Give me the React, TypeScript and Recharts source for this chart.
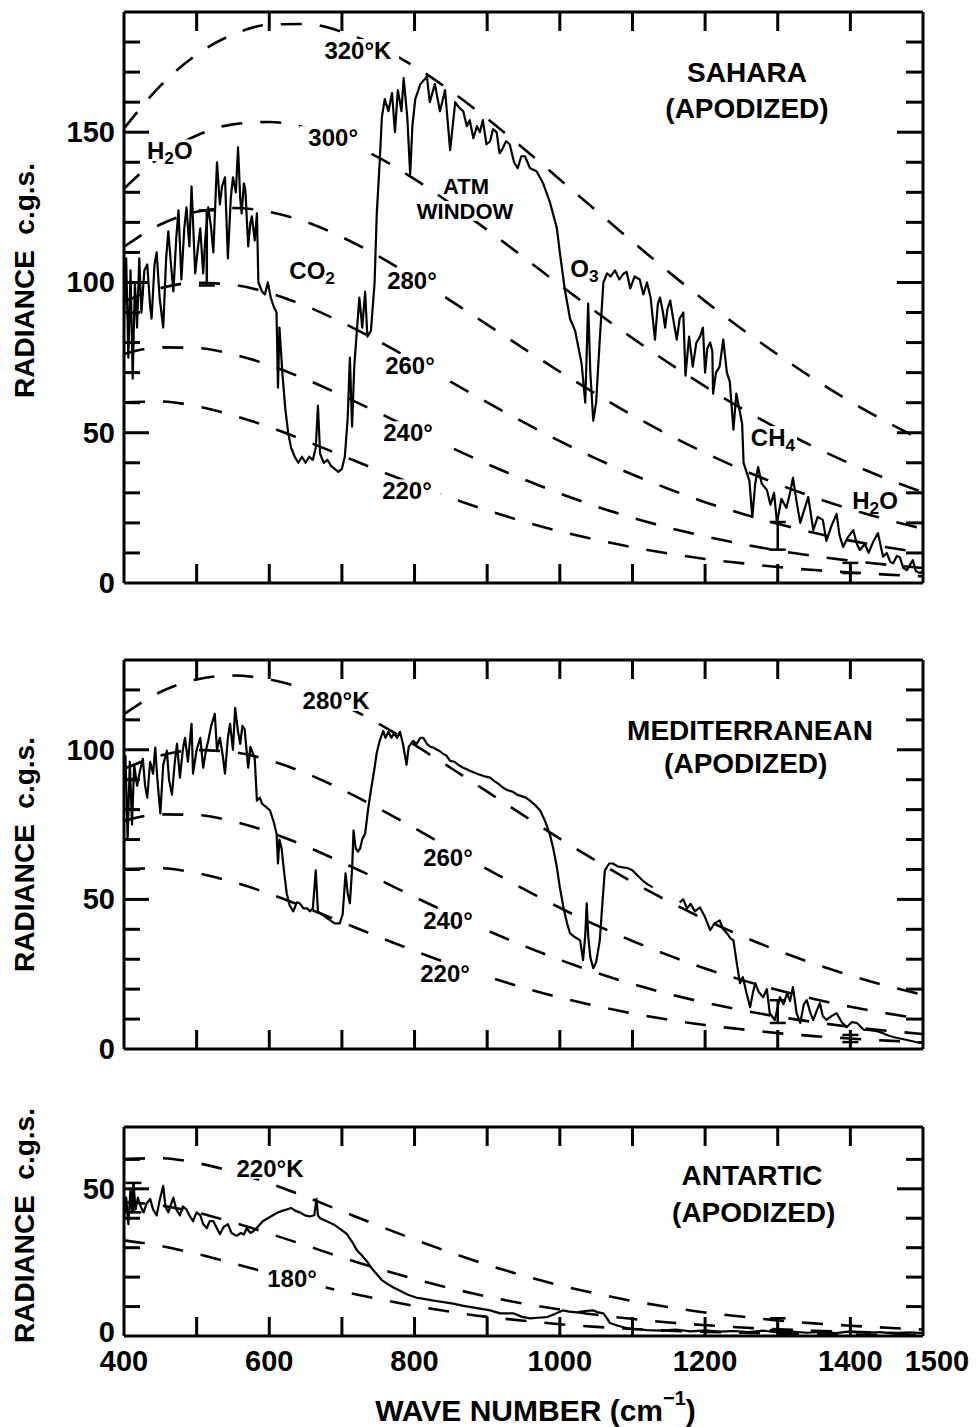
import React from 'react';
import { ComposedChart, Line, Scatter, XAxis, YAxis, ErrorBar } from 'recharts';

const FONT = '"Liberation Sans", Arial, Helvetica, sans-serif';

// ---------- blackbody reference curves (radiance, c.g.s.) ----------
const bbWN = [400, 450, 500, 550, 600, 650, 700, 750, 800, 850, 900, 950, 1000, 1050, 1100, 1150, 1200, 1250, 1300, 1350, 1400, 1450, 1500];
const bb320 = [151.2, 165.4, 175.8, 182.5, 185.8, 186.0, 183.4, 178.5, 171.8, 163.7, 154.5, 144.6, 134.3, 123.9, 113.6, 103.5, 93.8, 84.6, 76.0, 67.9, 60.4, 53.6, 47.4];
const bb300 = [131.2, 141.8, 148.9, 152.6, 153.4, 151.5, 147.4, 141.6, 134.4, 126.2, 117.5, 108.4, 99.2, 90.2, 81.5, 73.2, 65.4, 58.1, 51.4, 45.3, 39.7, 34.7, 30.2];
const bb280 = [111.9, 119.3, 123.5, 124.8, 123.5, 120.2, 115.1, 108.8, 101.6, 93.9, 86.0, 78.1, 70.3, 62.9, 55.8, 49.3, 43.3, 37.8, 32.9, 28.5, 24.6, 21.1, 18.1];
const bb260 = [93.6, 98.1, 99.9, 99.2, 96.5, 92.2, 86.7, 80.5, 73.8, 66.9, 60.1, 53.5, 47.2, 41.4, 36.1, 31.3, 26.9, 23.1, 19.7, 16.7, 14.1, 11.9, 10.0];
const bb240 = [76.2, 78.4, 78.2, 76.1, 72.5, 67.8, 62.4, 56.7, 50.8, 45.1, 39.6, 34.5, 29.8, 25.5, 21.7, 18.4, 15.5, 13.0, 10.8, 9.0, 7.4, 6.1, 5.0];
const bb220 = [60.1, 60.4, 58.8, 55.8, 51.9, 47.3, 42.4, 37.5, 32.8, 28.3, 24.2, 20.5, 17.2, 14.4, 11.9, 9.8, 8.0, 6.6, 5.3, 4.3, 3.5, 2.8, 2.2];
const bb200 = [45.5, 44.4, 42.0, 38.6, 34.8, 30.8, 26.7, 22.9, 19.4, 16.2, 13.4, 11.0, 9.0, 7.2, 5.8, 4.6, 3.7, 2.9, 2.3, 1.8, 1.4, 1.1, 0.8];
const bb180 = [32.5, 30.6, 27.9, 24.7, 21.4, 18.2, 15.2, 12.6, 10.2, 8.2, 6.5, 5.2, 4.0, 3.1, 2.4, 1.8, 1.4, 1.1, 0.8, 0.6, 0.45, 0.34, 0.25];

// ---------- Sahara spectrum ----------
const saharaWN = [
  400, 403, 406, 409, 412, 415, 418, 421, 424, 428, 432, 436, 438, 442, 445, 449, 454, 458, 461, 465,
  468, 472, 475, 479, 483, 486, 490, 493, 498, 502, 505, 509, 512, 516, 520, 523, 526, 528, 532, 535,
  539, 543, 547, 550, 554, 557, 560, 562, 565, 567, 571, 574, 576, 580, 583, 585, 590, 594, 598, 602,
  606, 610, 612, 614, 618, 622, 626, 630, 635, 640, 645, 650, 655, 660, 664, 667, 670, 675, 680, 685,
  690, 695, 700, 704, 708, 711, 714, 717, 720, 724, 728, 732, 735, 740, 745, 748, 752, 755, 759, 764,
  769, 773, 777, 782, 785, 790, 794, 797, 801, 808, 817, 821, 828, 835, 842, 849, 856, 862, 867, 872,
  876, 881, 886, 890, 894, 899, 904, 908, 913, 917, 920, 926, 931, 937, 942, 947, 952, 959, 968, 977,
  986, 996, 1000, 1007, 1014, 1021, 1030, 1035, 1039, 1042, 1046, 1050, 1055, 1060, 1065, 1070, 1076, 1082, 1088, 1092,
  1097, 1103, 1110, 1115, 1120, 1125, 1131, 1135, 1138, 1142, 1145, 1148, 1152, 1156, 1161, 1165, 1170, 1173, 1178, 1183,
  1188, 1193, 1197, 1200, 1203, 1207, 1210, 1211, 1215, 1220, 1225, 1230, 1234, 1239, 1243, 1247, 1251, 1253, 1257, 1261,
  1265, 1269, 1273, 1278, 1285, 1290, 1295, 1299, 1305, 1312, 1317, 1321, 1326, 1331, 1336, 1342, 1349, 1355, 1362, 1367,
  1374, 1381, 1385, 1390, 1396, 1404, 1409, 1413, 1420, 1425, 1432, 1438, 1445, 1450, 1455, 1459, 1464, 1468, 1473, 1478,
  1482, 1486, 1490, 1496, 1500,
];
const saharaRad = [
  88, 108, 75, 104, 68, 100, 85, 108, 90, 104, 106, 92, 88, 106, 110, 95, 85, 108, 117, 105,
  97, 115, 124, 101, 118, 125, 112, 132, 103, 112, 118, 103, 115, 125, 118, 110, 128, 140, 126, 132,
  135, 108, 128, 135, 130, 145, 128, 123, 133, 131, 112, 120, 122, 114, 123, 100, 97, 96, 100, 95,
  92, 90, 65, 85, 70, 58, 50, 45, 42, 40, 42, 40, 42, 41, 45, 59, 43, 40, 41, 39,
  38, 37, 38, 42, 55, 75, 52, 72, 82, 95, 85, 97, 82, 84, 100, 123, 140, 155, 161, 157,
  163, 150, 164, 157, 168, 155, 136, 152, 161, 166, 168.5, 160, 166, 157, 164, 144, 160, 158, 157, 152,
  154, 148, 152, 150, 154, 146, 147, 151, 150, 143, 144, 147, 146, 140, 138, 142, 142, 138, 137, 133,
  127, 118, 110, 97.5, 88, 84, 73, 60, 93, 70, 54, 60, 81, 100, 103, 102, 104, 101, 103, 103.5,
  98, 102, 101, 96, 100, 95, 81, 93, 95, 90, 85, 91, 94, 88, 81, 88, 90, 69, 82, 72,
  80, 82, 85, 70, 78, 80, 77, 63, 70, 72, 81, 70, 67, 51, 63, 58, 53, 40, 37, 34,
  22, 33, 38.6, 33, 31, 26, 30, 20, 28, 25, 30, 35, 27, 20, 24, 28.6, 17.6, 22, 21, 14,
  19, 23, 16, 12, 15, 17.6, 13, 11, 13, 10, 14, 16.6, 8.7, 10, 7, 6.6, 9, 8.6, 5, 4.3,
  6, 7.6, 4, 3.3, 4,
];

// ---------- Mediterranean spectrum (null = gap in the trace) ----------
const medWN = [
  400, 402, 405, 408, 411, 414, 418, 422, 426, 429, 432, 436, 440, 443, 446, 450, 454, 459, 462, 466,
  470, 473, 477, 481, 484, 488, 493, 495, 500, 505, 509, 513, 516, 520, 525, 528, 532, 536, 539, 543,
  546, 550, 553, 557, 560, 563, 566, 571, 574, 576, 580, 583, 587, 590, 595, 601, 606, 610, 612, 614,
  617, 620, 624, 628, 633, 638, 642, 647, 652, 656, 660, 664, 667, 672, 678, 684, 690, 697, 701, 705,
  708, 711, 714, 716, 719, 722, 725, 728, 732, 736, 739, 745, 748, 752, 757, 760, 764, 768, 772, 776,
  780, 784, 789, 792, 798, 803, 808, 812, 817, 822, 826, 831, 835, 839, 844, 849, 855, 860, 867, 872,
  876, 881, 886, 892, 898, 904, 910, 916, 922, 928, 935, 941, 947, 953, 959, 966, 973, 980, 986, 991,
  996, 1000, 1005, 1010, 1014, 1020, 1028, 1032, 1035, 1037, 1039, 1042, 1046, 1050, 1055, 1059, 1062, 1068, 1073, 1080,
  1087, 1093, 1100, 1107, 1114, 1121, 1128, 1148, 1165, 1170, 1175, 1180, 1186, 1193, 1200, 1207, 1213, 1220, 1225, 1230,
  1235, 1239, 1243, 1248, 1252, 1257, 1262, 1266, 1269, 1274, 1280, 1285, 1289, 1296, 1300, 1303, 1308, 1313, 1317, 1321,
  1326, 1331, 1336, 1340, 1345, 1349, 1354, 1358, 1362, 1367, 1374, 1381, 1388, 1395, 1402, 1409, 1418, 1427, 1436, 1445,
  1452, 1459, 1468, 1478, 1487, 1496, 1500,
];
const medRad: (number | null)[] = [
  90, 98, 70, 96, 75, 95, 88, 93, 97, 88, 84, 96, 92, 100.7, 90, 78.7, 95, 99.7, 90, 85,
  96, 102, 90.7, 100, 104, 96, 108.7, 92, 100, 104, 94, 100, 103, 108, 112, 100, 104, 98, 92, 104,
  108.7, 100, 114, 106, 102, 108, 107, 94, 101, 99.7, 97, 83, 84, 82, 81, 79.7, 76, 72, 62, 70,
  67, 60, 52, 48, 46, 49, 48.7, 47, 47, 46, 47, 59.7, 46, 45, 44, 43, 42, 42, 45, 58.7,
  52, 48.7, 60, 73, 67, 66, 67, 70, 72, 80, 85, 94, 99, 103, 106.3, 104, 106, 104, 105.5, 104,
  106, 102, 95, 101, 103, 102, 104, 104, 102, 101, 100.7, 100, 99.5, 98.7, 98, 96.3, 96, 95, 94, 93.5,
  93, 92.5, 92, 91.5, 91, 90.7, 89.5, 88.5, 87.3, 86.5, 86, 85, 84.5, 84, 83, 81.5, 79.7, 76, 72, 67,
  60.7, 54, 47.3, 42, 38.7, 37.5, 36.3, 29.7, 38, 48.7, 38, 30.7, 27, 29, 36.3, 50, 59.7, 62, 62, 61,
  60.7, 60.5, 59.7, 58, 56.3, 55, 54, null, 49, 50, 47, 48.5, 46, 47.3, 44, 39.7, 42, 43, 40, 38.7,
  37, 36.3, 29.7, 22, 24, 18.7, 14, 19, 22, 19, 17.3, 20, 12, 9.7, 14, 17.3, 15, 18.7, 16, 20.7,
  12, 8.7, 15, 16.3, 12, 9.7, 13, 15.3, 11, 9.7, 11, 12, 9, 7.3, 9, 8.7, 6.5, 6.3, 6, 5.3,
  4.5, 4, 3.5, 3, 2.5, 2, 2.5,
];

// ---------- Antarctic spectrum ----------
const antWN = [
  400, 403, 406, 409, 411, 413, 416, 419, 423, 427, 431, 436, 440, 445, 449, 454, 457, 461, 465, 468,
  472, 477, 481, 486, 490, 495, 500, 505, 509, 514, 518, 523, 527, 532, 537, 543, 548, 555, 561, 565,
  569, 574, 578, 584, 591, 598, 605, 612, 618, 624, 630, 636, 642, 649, 656, 662, 665, 667, 670, 679,
  688, 697, 707, 714, 721, 727, 734, 741, 748, 755, 762, 771, 780, 791, 803, 815, 826, 840, 853, 866,
  880, 892, 904, 918, 936, 948, 959, 970, 982, 993, 1004, 1013, 1023, 1035, 1046, 1053, 1060, 1065, 1069, 1080,
  1092, 1105, 1120, 1140, 1160, 1180, 1200, 1220, 1240, 1260, 1280, 1300, 1320, 1340, 1360, 1380, 1400, 1420, 1440, 1460,
  1480, 1500,
];
const antRad = [
  40, 47, 38, 50, 42, 52, 43, 47, 44, 42, 45, 46.6, 43, 41, 46, 51, 44, 42, 45, 47,
  43, 41, 44, 43, 41, 39, 42, 41, 38, 36.6, 39, 39, 37, 34.6, 37, 38, 35, 34, 35, 34.5,
  36.6, 35, 35.6, 37, 39, 40, 41, 42, 42.5, 43, 43.5, 42.5, 42, 41, 40.6, 41, 46.6, 41, 40, 39,
  38, 36.5, 34.6, 32, 29, 27.5, 25.5, 23, 21, 19, 17.8, 16.5, 15.4, 14, 13, 12.5, 12, 11.5, 11, 10.3,
  9.7, 9.2, 8.7, 7.7, 7.7, 6.5, 6, 6.2, 6.4, 7.5, 8.7, 8.3, 8, 8.5, 8.7, 8, 7.7, 6, 4.4, 3.5,
  2.7, 2.3, 2, 1.8, 2.2, 1.6, 1.9, 1.5, 1.7, 1.3, 1.8, 1.2, 1.5, 1.1, 1.4, 1.0, 1.6, 1.1, 1.3, 0.9,
  1.2, 1.0,
];

// ---------- error-bar markers drawn on the traces ----------
const saharaErrWN = [514, 1300, 1400];
const saharaErrMid = [111.5, 15.7, 5];
const saharaErrHalf = [12.5, 4.6, 1.7];
const medErrWN = [1300, 1400];
const medErrMid = [12.5, 3.5];
const medErrHalf = [3.8, 1.2];
const antErrWN = [413, 1300];
const antErrMid = [47, 4];
const antErrHalf = [5, 2];

// ---------- axis ticks ----------
const xInnerTicks = [500, 600, 700, 800, 900, 1000, 1100, 1200, 1300, 1400];
const xBottomTicks = [400, 500, 600, 700, 800, 900, 1000, 1100, 1200, 1300, 1400, 1500];
const xLabelValues = [400, 600, 800, 1000, 1200, 1400, 1500];
const ySaharaTicks = [0, 10, 20, 30, 40, 50, 60, 70, 80, 90, 100, 110, 120, 130, 140, 150, 160, 170, 180];
const ySaharaLabels = [0, 50, 100, 150];
const yMedTicks = [0, 10, 20, 30, 40, 50, 60, 70, 80, 90, 100, 110, 120];
const yMedLabels = [0, 50, 100];
const yAntTicks = [0, 10, 20, 30, 40, 50, 60];
const yAntLabels = [0, 50];

type Part = { t: string; sub?: boolean };
type Note = { x: number; y: number; parts: Part[]; size?: number; mask?: boolean };

const P = (s: string): Part[] => [{ t: s }];

const saharaNotes: Note[] = [
  { x: 722, y: 177.4, parts: P('320°K'), mask: true },
  { x: 688, y: 148.4, parts: P('300°'), mask: true },
  { x: 463, y: 144, parts: [{ t: 'H' }, { t: '2', sub: true }, { t: 'O' }], mask: true },
  { x: 659, y: 104, parts: [{ t: 'CO' }, { t: '2', sub: true }] },
  { x: 871, y: 132.2, parts: P('ATM'), size: 22, mask: true },
  { x: 869.5, y: 123.8, parts: P('WINDOW'), size: 22, mask: true },
  { x: 796.5, y: 100.8, parts: P('280°'), mask: true },
  { x: 1034, y: 104.8, parts: [{ t: 'O' }, { t: '3', sub: true }] },
  { x: 793.7, y: 72.5, parts: P('260°'), mask: true },
  { x: 791, y: 50.2, parts: P('240°'), mask: true },
  { x: 789.6, y: 30.9, parts: P('220°'), mask: true },
  { x: 1293.5, y: 48.6, parts: [{ t: 'CH' }, { t: '4', sub: true }], mask: true },
  { x: 1434, y: 27.6, parts: [{ t: 'H' }, { t: '2', sub: true }, { t: 'O' }], mask: true },
  { x: 1257.7, y: 170, parts: P('SAHARA'), size: 28 },
  { x: 1257.7, y: 158, parts: P('(APODIZED)'), size: 28 },
];
const medNotes: Note[] = [
  { x: 691.9, y: 116.6, parts: P('280°K'), mask: true },
  { x: 846, y: 64.2, parts: P('260°'), mask: true },
  { x: 846, y: 43.1, parts: P('240°'), mask: true },
  { x: 842, y: 25.4, parts: P('220°'), mask: true },
  { x: 1261.8, y: 106.6, parts: P('MEDITERRANEAN'), size: 28 },
  { x: 1256, y: 95.6, parts: P('(APODIZED)'), size: 28 },
];
const antNotes: Note[] = [
  { x: 601, y: 57.1, parts: P('220°K'), mask: true },
  { x: 631.3, y: 19.7, parts: P('180°'), mask: true },
  { x: 1264.6, y: 54.7, parts: P('ANTARTIC'), size: 28 },
  { x: 1267, y: 42.1, parts: P('(APODIZED)'), size: 28 },
];

const pts = (xs: number[], ys: (number | null)[]) => xs.map((x, i) => ({ x, y: ys[i] }));
const errPts = (xs: number[], mid: number[], half: number[]) => xs.map((x, i) => ({ x, y: mid[i], err: half[i] }));

const NoteShape = (props: any) => {
  const { cx, cy, payload } = props;
  const n: Note = payload;
  if (!n || cx == null || cy == null) return <g />;
  const fs = n.size ?? 24;
  const children: React.ReactNode[] = [];
  let prevSub = false;
  let w = 0;
  n.parts.forEach((p, i) => {
    if (p.sub) {
      w += p.t.length * fs * 0.72 * 0.6;
      children.push(
        <tspan key={i} fontSize={fs * 0.72} dy={fs * 0.32}>
          {p.t}
        </tspan>
      );
      prevSub = true;
    } else {
      w += p.t.length * fs * 0.62;
      children.push(
        <tspan key={i} dy={prevSub ? -fs * 0.32 : 0}>
          {p.t}
        </tspan>
      );
      prevSub = false;
    }
  });
  return (
    <g>
      {n.mask && <rect x={cx - w / 2 - 4} y={cy - fs * 0.45} width={w + 8} height={fs * 0.9} fill="#fff" />}
      <text
        x={cx}
        y={cy}
        textAnchor="middle"
        dominantBaseline="central"
        fontFamily={FONT}
        fontWeight={700}
        fontSize={fs}
        fill="#000"
      >
        {children}
      </text>
    </g>
  );
};

const yTickLeft = (labels: number[], zeroShift: number) => (props: any) => {
  const { x, y, payload } = props;
  const v = payload.value;
  const len = v === 0 ? 0 : v % 50 === 0 ? 25 : 16;
  return (
    <g>
      {len > 0 && <line x1={x} y1={y} x2={x + len} y2={y} stroke="#000" strokeWidth={3} />}
      {labels.includes(v) && (
        <text x={x - 9} y={y + (v === 0 ? zeroShift : 0)} textAnchor="end" dominantBaseline="central" fontFamily={FONT} fontWeight={700} fontSize={29} fill="#000">
          {v}
        </text>
      )}
    </g>
  );
};

const yTickRight = (props: any) => {
  const { x, y, payload } = props;
  const v = payload.value;
  const len = v === 0 ? 0 : v % 50 === 0 ? 26 : 17;
  return <g>{len > 0 && <line x1={x} y1={y} x2={x - len} y2={y} stroke="#000" strokeWidth={3} />}</g>;
};

const xTickTop = (props: any) => {
  const { x, y } = props;
  return <line x1={x} y1={y} x2={x} y2={y + 19} stroke="#000" strokeWidth={3} />;
};

const xTickBottom = (withLabels: boolean) => (props: any) => {
  const { x, y, payload } = props;
  const v = payload.value;
  const inner = v > 400 && v < 1500;
  const dx = v === 1500 ? 14 : 0;
  return (
    <g>
      {inner && <line x1={x} y1={y} x2={x} y2={y - 19} stroke="#000" strokeWidth={3} />}
      {withLabels && xLabelValues.includes(v) && (
        <text x={x + dx} y={y + 25} textAnchor="middle" dominantBaseline="central" fontFamily={FONT} fontWeight={700} fontSize={29} fill="#000">
          {v}
        </text>
      )}
    </g>
  );
};

const yTitle = (offset: number) => (props: any) => {
  const vb = props.viewBox || {};
  const cx = 24;
  const cy = (vb.y ?? 0) + (vb.height ?? 0) / 2 + offset;
  return (
    <text
      x={cx}
      y={cy}
      transform={`rotate(-90, ${cx}, ${cy})`}
      textAnchor="middle"
      dominantBaseline="central"
      fontFamily={FONT}
      fontWeight={700}
      fontSize={28}
      fill="#000"
      style={{ whiteSpace: 'pre' }}
    >
      RADIANCE  c.g.s.
    </text>
  );
};

const xTitle = (props: any) => {
  const vb = props.viewBox || {};
  const cx = (vb.x ?? 0) + (vb.width ?? 0) / 2 + 12;
  const cy = (vb.y ?? 0) + 74;
  return (
    <text x={cx} y={cy} textAnchor="middle" dominantBaseline="central" fontFamily={FONT} fontWeight={700} fontSize={30} fill="#000">
      <tspan>WAVE NUMBER (cm</tspan>
      <tspan fontSize={20} dy={-12}>−1</tspan>
      <tspan dy={12}>)</tspan>
    </text>
  );
};

const Empty = () => <g />;

type PanelProps = {
  top: number;
  height: number;
  mTop: number;
  mBottom: number;
  yMax: number;
  yTicks: number[];
  yLabels: number[];
  yTitleOffset: number;
  zeroShift: number;
  curves: number[][];
  specWN: number[];
  specRad: (number | null)[];
  errs: { x: number; y: number; err: number }[];
  notes: Note[];
  bottomLabels?: boolean;
};

function Panel(p: PanelProps) {
  const axisLine = { stroke: '#000', strokeWidth: 3 };
  // plot area: x 124..923; axes boxes are 1px thick so margins are reduced by 1
  return (
    <div style={{ position: 'absolute', left: 0, top: p.top }}>
      <ComposedChart width={976} height={p.height} margin={{ top: p.mTop - 1, right: 52, bottom: p.mBottom - 1, left: 0 }}>
        <XAxis
          xAxisId="b"
          type="number"
          dataKey="x"
          domain={[400, 1500]}
          allowDataOverflow
          ticks={xBottomTicks}
          interval={0}
          height={1}
          tickSize={0}
          tickMargin={0}
          tickLine={false}
          axisLine={axisLine}
          tick={xTickBottom(!!p.bottomLabels)}
          label={p.bottomLabels ? { content: xTitle } : undefined}
        />
        <XAxis
          xAxisId="t"
          orientation="top"
          type="number"
          dataKey="x"
          domain={[400, 1500]}
          allowDataOverflow
          ticks={xInnerTicks}
          interval={0}
          height={1}
          tickSize={0}
          tickMargin={0}
          tickLine={false}
          axisLine={axisLine}
          tick={xTickTop}
        />
        <YAxis
          yAxisId="l"
          type="number"
          domain={[0, p.yMax]}
          allowDataOverflow
          ticks={p.yTicks}
          interval={0}
          width={124}
          tickSize={0}
          tickMargin={0}
          tickLine={false}
          axisLine={axisLine}
          tick={yTickLeft(p.yLabels, p.zeroShift)}
          label={{ content: yTitle(p.yTitleOffset) }}
        />
        <YAxis
          yAxisId="r"
          orientation="right"
          type="number"
          domain={[0, p.yMax]}
          allowDataOverflow
          ticks={p.yTicks}
          interval={0}
          width={1}
          tickSize={0}
          tickMargin={0}
          tickLine={false}
          axisLine={axisLine}
          tick={yTickRight}
        />
        {p.curves.map((c, i) => (
          <Line
            key={'bb' + i}
            xAxisId="b"
            yAxisId="l"
            data={pts(bbWN, c)}
            dataKey="y"
            type="monotone"
            stroke="#000"
            strokeWidth={2.6}
            strokeDasharray="21 18"
            dot={false}
            activeDot={false}
            isAnimationActive={false}
          />
        ))}
        <Line
          xAxisId="b"
          yAxisId="l"
          data={pts(p.specWN, p.specRad)}
          dataKey="y"
          type="linear"
          stroke="#000"
          strokeWidth={2.2}
          strokeLinejoin="round"
          dot={false}
          activeDot={false}
          connectNulls={false}
          isAnimationActive={false}
        />
        <Scatter xAxisId="b" yAxisId="l" data={p.errs} dataKey="y" shape={Empty} isAnimationActive={false}>
          <ErrorBar dataKey="err" direction="y" width={8} stroke="#000" strokeWidth={2.5} isAnimationActive={false} />
        </Scatter>
        <Scatter xAxisId="b" yAxisId="l" data={p.notes} dataKey="y" shape={NoteShape} isAnimationActive={false} />
      </ComposedChart>
    </div>
  );
}

export default function App() {
  return (
    <div style={{ position: 'absolute', left: 0, top: 0, width: 976, height: 1427, background: '#fff' }}>
      <Panel
        top={0}
        height={600}
        mTop={12}
        mBottom={17}
        yMax={190}
        yTicks={ySaharaTicks}
        yLabels={ySaharaLabels}
        yTitleOffset={-17}
        zeroShift={0}
        curves={[bb320, bb300, bb280, bb260, bb240, bb220]}
        specWN={saharaWN}
        specRad={saharaRad}
        errs={errPts(saharaErrWN, saharaErrMid, saharaErrHalf)}
        notes={saharaNotes}
      />
      <Panel
        top={640}
        height={440}
        mTop={20}
        mBottom={31}
        yMax={130}
        yTicks={yMedTicks}
        yLabels={yMedLabels}
        yTitleOffset={0}
        zeroShift={0}
        curves={[bb280, bb260, bb240, bb220]}
        specWN={medWN}
        specRad={medRad}
        errs={errPts(medErrWN, medErrMid, medErrHalf)}
        notes={medNotes}
      />
      <Panel
        top={1090}
        height={337}
        mTop={37}
        mBottom={91}
        yMax={71}
        yTicks={yAntTicks}
        yLabels={yAntLabels}
        yTitleOffset={-6}
        zeroShift={-4}
        curves={[bb220, bb200, bb180]}
        specWN={antWN}
        specRad={antRad}
        errs={errPts(antErrWN, antErrMid, antErrHalf)}
        notes={antNotes}
        bottomLabels
      />
    </div>
  );
}
